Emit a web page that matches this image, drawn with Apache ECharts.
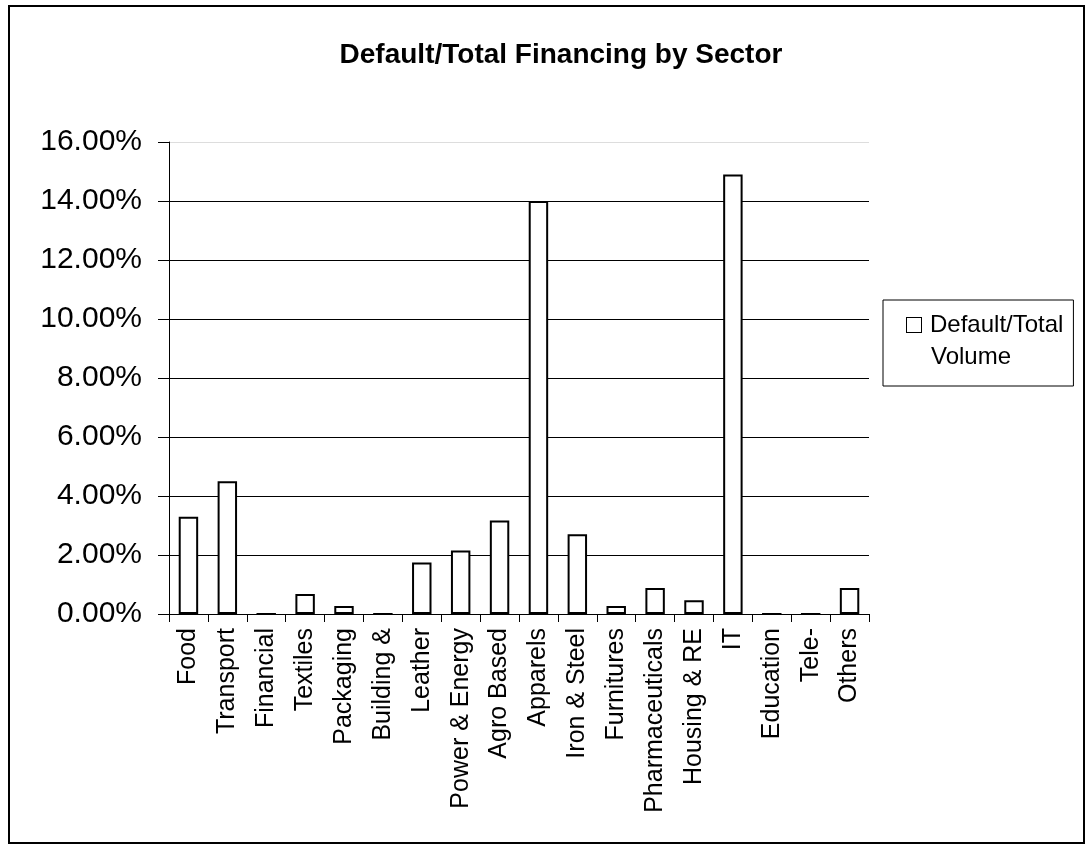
<!DOCTYPE html>
<html>
<head>
<meta charset="utf-8">
<title>Default/Total Financing by Sector</title>
<script src="https://cdn.jsdelivr.net/npm/echarts@6/dist/echarts.min.js"></script>
<style>
  html, body { margin: 0; padding: 0; background: #fff; }
  #chart { width: 1088px; height: 845px; }
</style>
</head>
<body>
<div id="chart"></div>
<script>
"use strict";

/* ── data ── */
const sectors = [
  "Food", "Transport", "Financial", "Textiles", "Packaging", "Building &",
  "Leather", "Power & Energy", "Agro Based", "Apparels", "Iron & Steel",
  "Furnitures", "Pharmaceuticals", "Housing & RE", "IT", "Education",
  "Tele-", "Others"
];
// default / total volume, in percent
const defaultRatio = [
  3.3, 4.5, 0, 0.68, 0.27, 0,
  1.75, 2.15, 3.17, 14.0, 2.7,
  0.27, 0.88, 0.47, 14.9, 0,
  0, 0.88
];
const yTicks = [0, 2, 4, 6, 8, 10, 12, 14, 16];
const seriesName = "Default/Total Volume";

const FONT = '"Liberation Sans", Arial, sans-serif';

const chart = echarts.init(document.getElementById("chart"));

chart.setOption({
  backgroundColor: "#fff",
  animation: false,
  title: {
    text: "Default/Total Financing by Sector",
    left: 556, top: 36, textAlign: "center",
    textStyle: { fontFamily: FONT, fontSize: 28, fontWeight: "bold", color: "#000" }
  },
  legend: {
    data: [seriesName],
    orient: "vertical",
    left: 883, top: 300,
    icon: "none", itemWidth: 0, itemGap: 0,
    borderColor: "#000", borderWidth: 1,
    padding: [9, 10, 13, 19],
    formatter: () => "{box|}{gap|}{t|Default/Total}\n{ind|}{t|Volume}",
    textStyle: {
      fontFamily: FONT, fontSize: 24, color: "#000", lineHeight: 32,
      rich: {
        box: { width: 14, height: 14, borderColor: "#000", borderWidth: 1, backgroundColor: "#fff" },
        gap: { width: 9 },
        ind: { width: 24 },
        t: { fontFamily: FONT, fontSize: 24, color: "#000", lineHeight: 32 }
      }
    }
  },
  grid: { left: 169, right: 219, top: 142, bottom: 231, containLabel: false },
  xAxis: {
    type: "category",
    data: sectors,
    z: 3,
    axisLine: { lineStyle: { color: "#000", width: 1 } },
    axisTick: { show: true, length: 8, lineStyle: { color: "#000" } },
    axisLabel: {
      rotate: 90, margin: 14, interval: 0,
      fontFamily: FONT, fontSize: 25, color: "#000"
    }
  },
  yAxis: {
    type: "value",
    min: yTicks[0], max: yTicks[yTicks.length - 1], interval: 2,
    axisLine: { show: true, lineStyle: { color: "#000", width: 1 } },
    axisTick: { show: true, length: 11, lineStyle: { color: "#000" } },
    axisLabel: {
      margin: 27, fontFamily: FONT, fontSize: 30, color: "#000",
      formatter: v => v.toFixed(2) + "%"
    },
    splitLine: {
      lineStyle: {
        color: ["#000", "#000", "#000", "#000", "#000", "#000", "#000", "#000", "#ddd"],
        width: 1
      }
    }
  },
  series: [{
    name: seriesName,
    type: "bar",
    data: defaultRatio,
    barWidth: "50%",
    z: 2,
    itemStyle: { color: "#fff", borderColor: "#000", borderWidth: 2 }
  }],
  graphic: [{
    type: "rect",
    silent: true,
    shape: { x: 9, y: 6, width: 1075, height: 837 },
    style: { fill: "none", stroke: "#000", lineWidth: 2 }
  }]
});
</script>
</body>
</html>
